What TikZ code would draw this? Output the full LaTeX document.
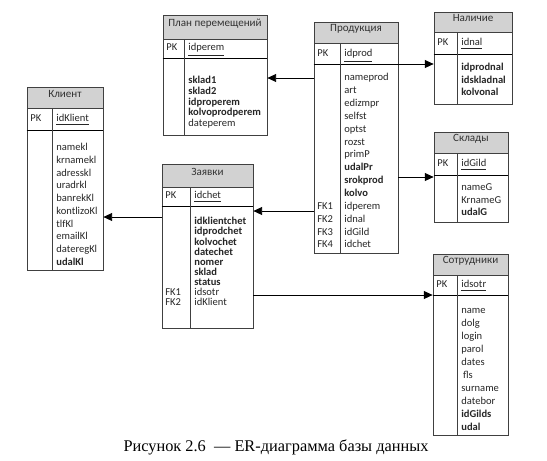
\documentclass[tikz,border=0pt]{standalone}
\usepackage{fontspec}
\setmainfont{Carlito}
\newfontfamily\capfont{Liberation Serif}
\usetikzlibrary{arrows.meta,fit}

\tikzset{
    tblhead/.style={draw=black!75, fill=gray!35, inner sep=0pt, text=black!80,
        font=\fontsize{6.3}{7}\selectfont},
    tblbox/.style={draw=black!75, inner sep=0pt},
    keytxt/.style={anchor=west, inner sep=0pt, text height=4.5pt, text depth=1.3pt,
        text=black!85, font=\fontsize{6}{7}\selectfont},
    fieldtxt/.style={keytxt},
    link/.style={draw=black, line width=0.5pt, -{Triangle[length=5pt,width=4.5pt]}},
}

\begin{document}
\begin{tikzpicture}[x=0.02cm, y=-0.02cm]

        \useasboundingbox (0,0) rectangle (547,460);

        % План перемещений
        \node[tblhead, fit={(163,15) (267,39)}] (planhead) {План перемещений};
        \node[tblbox, fit={(163,39) (267,58)}] (plankey) {};
        \node[tblbox, fit={(163,58) (267,135)}] (planbody) {};
        \draw[line width=0.9pt] (plankey.south west) -- (plankey.south east);
        \draw[black!75] (184,39) -- (184,135);
        \node[keytxt] (planpk) at (166,48) {PK};
        \node[fieldtxt] (planid) at (188,48) {\underline{idperem}};
        \foreach \f [count=\i] in {\textbf{sklad1}, \textbf{sklad2}, \textbf{idproperem},
                \textbf{kolvoprodperem}, dateperem} {
            \node[fieldtxt] (planf\i) at (188,{81+(\i-1)*10.7}) {\f};
        }

        % Продукция
        \node[tblhead, fit={(314,22) (398,43)}] (prodhead) {Продукция};
        \node[tblbox, fit={(314,43) (398,64)}] (prodkey) {};
        \node[tblbox, fit={(314,64) (398,253)}] (prodbody) {};
        \draw[line width=0.9pt] (prodkey.south west) -- (prodkey.south east);
        \draw[black!75] (340,43) -- (340,253);
        \node[keytxt] (prodpk) at (317,54) {PK};
        \node[fieldtxt] (prodid) at (344,54) {\underline{idprod}};
        \foreach \f [count=\i] in {nameprod, art, edizmpr, selfst, optst, rozst, primP,
                \textbf{udalPr}, \textbf{srokprod}, \textbf{kolvo}, idperem, idnal, idGild, idchet} {
            \node[fieldtxt] (prodf\i) at (344,{78+(\i-1)*12.85}) {\f};
        }
        \foreach \k in {1,...,4} {
            \node[keytxt] (prodfk\k) at (317,{78+(\k+9)*12.85}) {FK\k};
        }

        % Наличие
        \node[tblhead, fit={(434,12) (512,32)}] (nalhead) {Наличие};
        \node[tblbox, fit={(434,32) (512,54)}] (nalkey) {};
        \node[tblbox, fit={(434,54) (512,104)}] (nalbody) {};
        \draw[line width=0.9pt] (nalkey.south west) -- (nalkey.south east);
        \draw[black!75] (457,32) -- (457,104);
        \node[keytxt] (nalpk) at (437,43) {PK};
        \node[fieldtxt] (nalid) at (461,43) {\underline{idnal}};
        \foreach \f [count=\i] in {\textbf{idprodnal}, \textbf{idskladnal}, \textbf{kolvonal}} {
            \node[fieldtxt] (nalf\i) at (461,{68+(\i-1)*12.5}) {\f};
        }

        % Склады
        \node[tblhead, fit={(434,132) (508,153)}] (skladhead) {Склады};
        \node[tblbox, fit={(434,153) (508,175)}] (skladkey) {};
        \node[tblbox, fit={(434,175) (508,222)}] (skladbody) {};
        \draw[line width=0.9pt] (skladkey.south west) -- (skladkey.south east);
        \draw[black!75] (457,153) -- (457,222);
        \node[keytxt] (skladpk) at (437,164) {PK};
        \node[fieldtxt] (skladid) at (461,164) {\underline{idGild}};
        \foreach \f [count=\i] in {nameG, KrnameG, \textbf{udalG}} {
            \node[fieldtxt] (skladf\i) at (461,{188+(\i-1)*12.5}) {\f};
        }

        % Клиент
        \node[tblhead, fit={(27,87) (103,108)}] (klienthead) {Клиент};
        \node[tblbox, fit={(27,108) (103,130)}] (klientkey) {};
        \node[tblbox, fit={(27,130) (103,270)}] (klientbody) {};
        \draw[line width=0.9pt] (klientkey.south west) -- (klientkey.south east);
        \draw[black!75] (52,108) -- (52,270);
        \node[keytxt] (klientpk) at (30,119) {PK};
        \node[fieldtxt] (klientid) at (56,119) {\underline{idKlient}};
        \foreach \f [count=\i] in {namekl, krnamekl, adresskl, uradrkl, banrekKl, kontlizoKl,
                tlfKl, emailKl, dateregKl, \textbf{udalKl}} {
            \node[fieldtxt] (klientf\i) at (56,{148+(\i-1)*12.7}) {\f};
        }

        % Заявки
        \node[tblhead, fit={(162,164) (253,187)}] (zayavhead) {Заявки};
        \node[tblbox, fit={(162,187) (253,206)}] (zayavkey) {};
        \node[tblbox, fit={(162,206) (253,328)}] (zayavbody) {};
        \draw[line width=0.9pt] (zayavkey.south west) -- (zayavkey.south east);
        \draw[black!75] (190,187) -- (190,328);
        \node[keytxt] (zayavpk) at (165,196) {PK};
        \node[fieldtxt] (zayavid) at (194,196) {\underline{idchet}};
        \foreach \f [count=\i] in {\textbf{idklientchet}, \textbf{idprodchet}, \textbf{kolvochet},
                \textbf{datechet}, \textbf{nomer}, \textbf{sklad}, \textbf{status}, idsotr, idKlient} {
            \node[fieldtxt] (zayavf\i) at (194,{222+(\i-1)*10.1}) {\f};
        }
        \node[keytxt] (zayavfk1) at (165,{222+7*10.1}) {FK1};
        \node[keytxt] (zayavfk2) at (165,{222+8*10.1}) {FK2};

        % Сотрудники
        \node[tblhead, fit={(433,254) (508,275)}] (sotrhead) {Сотрудники};
        \node[tblbox, fit={(433,275) (508,295)}] (sotrkey) {};
        \node[tblbox, fit={(433,295) (508,435)}] (sotrbody) {};
        \draw[line width=0.9pt] (sotrkey.south west) -- (sotrkey.south east);
        \draw[black!75] (457,275) -- (457,435);
        \node[keytxt] (sotrpk) at (436,285) {PK};
        \node[fieldtxt] (sotrid) at (461,285) {\underline{idsotr}};
        \foreach \f [count=\i] in {name, dolg, login, parol, dates, {\,fls}, surname, datebor,
                \textbf{idGilds}, \textbf{udal}} {
            \node[fieldtxt] (sotrf\i) at (461,{311+(\i-1)*13}) {\f};
        }

        % Связи
        \draw[link] (prodbody.west |- 0,78) -- (planbody.east |- 0,78);
        \draw[link] (prodkey.east |- 0,64) -- (nalbody.west |- 0,64);
        \draw[link] (prodbody.east |- 0,177) -- (skladbody.west |- 0,177);
        \draw[link] (prodbody.west |- 0,211) -- (zayavbody.east |- 0,211);
        \draw[link] (zayavbody.east |- 0,295) -- (sotrbody.west |- 0,295);
        \draw[link] (zayavbody.west |- 0,217) -- (klientbody.east |- 0,217);

        % Подпись
        \node[font=\capfont\fontsize{9.3}{11}\selectfont] (caption) at (276,447)
            {Рисунок 2.6 \ — ER-диаграмма базы данных};

    \end{tikzpicture}
\end{document}
